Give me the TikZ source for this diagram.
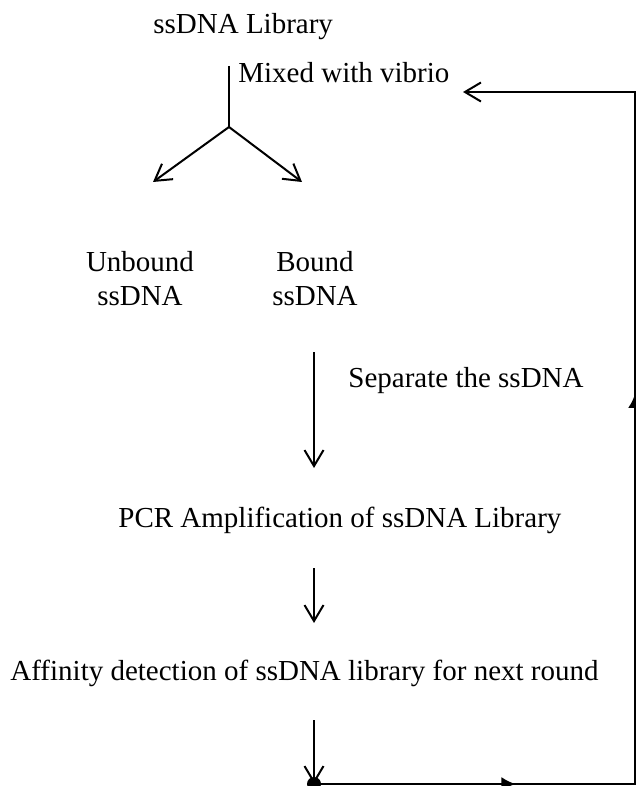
\documentclass[tikz,border=0pt]{standalone}
\usepackage{fontspec}
\setmainfont{Liberation Serif}
\usetikzlibrary{arrows.meta,decorations.markings}
\tikzset{
  lbl/.style={inner sep=0pt, font=\fontsize{14.5}{17}\selectfont},
  varr/.style={-{Straight Barb[length=8pt,width=9.5pt]}, line width=1pt},
  loopline/.style={line width=1pt, postaction={decorate}, decoration={markings,
    mark=at position 0.17 with {\arrow{Latex[length=7pt,width=7pt]}},
    mark=at position 0.6 with {\arrow{Latex[length=7pt,width=7pt]}}}}
}
\begin{document}
\begin{tikzpicture}[x=0.5pt,y=-0.5pt]
\useasboundingbox (0,0) rectangle (636,786);
% texts
\node[lbl, anchor=base west] (lib) at (153,34) {ssDNA Library};
\node[lbl, anchor=base west] (mix) at (238,83) {Mixed with vibrio};
\node[lbl, align=center, anchor=north] (unbound) at (140,251) {Unbound\\ssDNA};
\node[lbl, align=center, anchor=north] (bound) at (315,251) {Bound\\ssDNA};
\node[lbl, anchor=base west] (sep) at (348,387) {Separate the ssDNA};
\node[lbl, anchor=base west] (pcr) at (118,527) {PCR Amplification of ssDNA Library};
\node[lbl, anchor=base west] (aff) at (10,680) {Affinity detection of ssDNA library for next round};
% arrow ends
\coordinate (top) at (229,66);
\coordinate (fork) at (229,127);
\coordinate (ubtip) at (153,182);
\coordinate (btip) at (302,182);
\coordinate (s1) at (314,352); \coordinate (e1) at (314,468);
\coordinate (s2) at (314,568); \coordinate (e2) at (314,623);
\coordinate (s3) at (314,720); \coordinate (dot) at (314,784);
\coordinate (br) at (635,784); \coordinate (tr) at (635,92);
\coordinate (back) at (463,92);
% connectors
\draw[line width=1pt] (top) -- (fork);
\draw[varr] (fork) -- (ubtip);
\draw[varr] (fork) -- (btip);
\draw[varr] (s1) -- (e1);
\draw[varr] (s2) -- (e2);
\draw[varr] (s3) -- (dot);
\fill (dot) circle[radius=3.5pt];
\draw[loopline, -{Straight Barb[length=8pt,width=9.5pt]}] (dot) -- (br) -- (tr) -- (back);
\end{tikzpicture}
\end{document}
